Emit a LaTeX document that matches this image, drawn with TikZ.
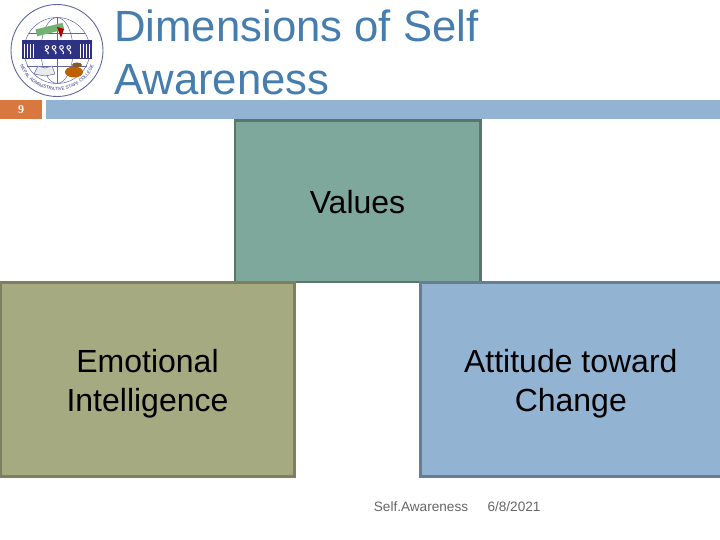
\documentclass[tikz,border=0pt]{standalone}
\usepackage{fontspec}
\setmainfont{Liberation Sans}
\newfontfamily\devafont[Script=Devanagari]{Noto Sans}
\newfontfamily\numfont{Liberation Serif}
\usetikzlibrary{decorations.text}

\definecolor{softblue}{RGB}{147,179,210}
\definecolor{softteal}{RGB}{125,168,155}
\definecolor{softolive}{RGB}{165,170,128}
\definecolor{softorange}{RGB}{217,120,62}
\definecolor{titleblue}{RGB}{70,125,175}
\definecolor{logoblue}{RGB}{45,50,130}

\begin{document}
\begin{tikzpicture}[
x=1pt,y=-1pt,
every node/.style={align=center}
]

% =====================================================
% Styles
% =====================================================

\tikzstyle{title} =
[font=\fontsize{43.7}{53}\selectfont,
text=titleblue,
anchor=north west,
align=left,
inner sep=0pt]

\tikzstyle{panel} =
[rectangle,
line width=2.6pt,
anchor=north west,
font=\fontsize{32}{39}\selectfont,
inner sep=0pt]

\tikzstyle{footer} =
[font=\fontsize{13.6}{16}\selectfont,
text=black!60,
inner sep=0pt]

\tikzstyle{logoline} =
[draw=logoblue!75,
line width=0.5pt]

\useasboundingbox (0,0) rectangle (720,540);

% =====================================================
% Header
% =====================================================

\node (heading) [title] at (114,10)
{Dimensions of Self\\Awareness};

\node (pagebox) [rectangle, fill=softorange, minimum width=42pt, minimum height=19pt,
inner sep=0pt, anchor=north west, text=white,
font=\numfont\bfseries\fontsize{12}{14}\selectfont] at (0,100)
{9};

\fill [softblue] (46,100) rectangle (720,119);

% =====================================================
% Logo
% =====================================================

\draw [logoline, line width=0.9pt] (57,50.5) circle (46);
\draw [logoline] (57,50.5) circle (33);
\draw [logoline] (57,50.5) ellipse (16 and 33);
\draw [logoline] (29,33) -- (85,33);
\draw [logoline] (27,66) -- (87,66);
\draw [logoline] (57,17.5) -- (57,83.5);

\fill [green!45!black!55, rotate around={14:(50,30)}] (36,26) rectangle (64,33);
\fill [red!70!black] (57,27) -- (64,29) -- (61,38) -- cycle;

\fill [logoblue] (22,40) rectangle (92,59);
\foreach \barx in {24,27,30,33,80,83,86,89} {
\fill [white] (\barx,44) rectangle ++(1.4,14);
}
\node (logoyear) [fill=logoblue, text=white, inner sep=1pt,
font=\devafont\bfseries\fontsize{14}{15}\selectfont] at (58,50)
{१९९९};

\draw [logoline, fill=black!8] (34,74) -- (38,66) -- (45,68) -- (52,66) -- (55,74) -- (45,76) -- cycle;
\fill [orange!75!black] (74,72) ellipse (9 and 5.5);
\fill [brown!70!black] (77,65) ellipse (5 and 2.5);

\path [decorate, decoration={text along path, text align=center,
text={|\fontsize{4.6}{6}\selectfont\color{logoblue}|NEPAL ADMINISTRATIVE STAFF COLLEGE}}]
(17.6,57.4) arc (170:10:40);

% =====================================================
% Nodes
% =====================================================

\node (values) [panel, fill=softteal, draw=softteal!70!black,
minimum width=245.4pt, minimum height=161pt] at (233.5,119.5)
{\rule{0pt}{25pt}Values};

\node (emotional) [panel, fill=softolive, draw=softolive!75!black,
minimum width=294.4pt, minimum height=194pt] at (-1,281)
{\rule{0pt}{32pt}Emotional\\Intelligence};

\node (attitude) [panel, fill=softblue, draw=softblue!70!black,
minimum width=301pt, minimum height=194pt] at (419,281)
{\rule{0pt}{32pt}Attitude toward\\Change};

\node (topic) [footer] at (421,507)
{Self.Awareness};

\node (date) [footer] at (514,507)
{6/8/2021};

\end{tikzpicture}
\end{document}
